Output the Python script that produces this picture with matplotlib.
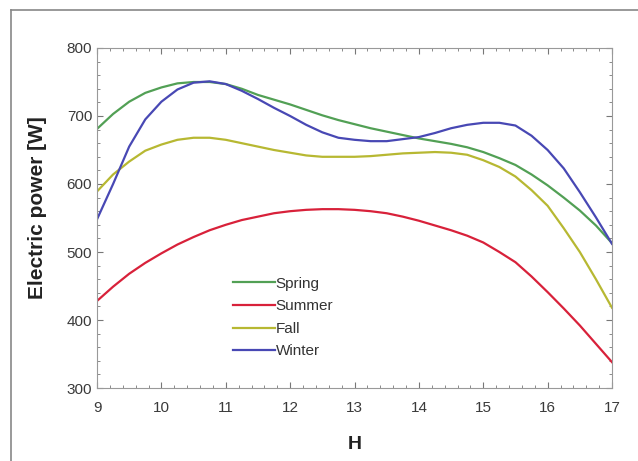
import numpy as np
import matplotlib
matplotlib.use("Agg")
from matplotlib import pyplot as plt
from matplotlib.ticker import MultipleLocator
from matplotlib.lines import Line2D

# hours of the day
hours = [9, 9.25, 9.5, 9.75, 10, 10.25, 10.5, 10.75, 11, 11.25, 11.5, 11.75,
         12, 12.25, 12.5, 12.75, 13, 13.25, 13.5, 13.75, 14, 14.25, 14.5, 14.75,
         15, 15.25, 15.5, 15.75, 16, 16.25, 16.5, 16.75, 17]

spring = [681, 703, 721, 734, 742, 748, 750, 750, 747, 740, 731, 724,
          717, 709, 701, 694, 688, 682, 677, 672, 667, 663, 659, 654,
          647, 638, 628, 614, 598, 580, 561, 539, 513]
summer = [428, 449, 468, 484, 498, 511, 522, 532, 540, 547, 552, 557,
          560, 562, 563, 563, 562, 560, 557, 552, 546, 539, 532, 524,
          514, 500, 485, 464, 441, 417, 392, 365, 338]
fall = [589, 614, 633, 649, 658, 665, 668, 668, 665, 660, 655, 650,
        646, 642, 640, 640, 640, 641, 643, 645, 646, 647, 646, 643,
        635, 625, 611, 591, 568, 535, 500, 460, 418]
winter = [548, 600, 655, 695, 721, 739, 749, 751, 747, 737, 725, 712,
          700, 687, 676, 668, 665, 663, 663, 666, 669, 675, 682, 687,
          690, 690, 686, 671, 650, 623, 588, 551, 512]

series = [("Spring", spring, "#52a055"),
          ("Summer", summer, "#d8213a"),
          ("Fall", fall, "#b7b832"),
          ("Winter", winter, "#4848b4")]

plt.rcParams['font.family'] = ['Liberation Sans', 'DejaVu Sans']

fig = plt.figure(figsize=(6.38, 4.61), dpi=100)
ax = fig.add_axes([97/638, 73/461, 515/638, 340/461])

for name, vals, col in series:
    ax.plot(hours, vals, color=col, linewidth=1.6, label=name)

ax.set_xlim(9, 17)
ax.set_ylim(300, 800)
ax.xaxis.set_major_locator(MultipleLocator(1))
ax.xaxis.set_minor_locator(MultipleLocator(0.2))
ax.yaxis.set_major_locator(MultipleLocator(100))
ax.yaxis.set_minor_locator(MultipleLocator(20))
ax.tick_params(which='both', direction='in', top=True, right=True,
               color='#777777', labelsize=11, labelcolor='#3a3a3a')
ax.tick_params(which='major', length=4)
ax.tick_params(which='minor', length=2)
ax.tick_params(axis='x', which='major', pad=9)
for sp in ax.spines.values():
    sp.set_color('#999999')

ax.set_xlabel("H", fontsize=14, fontweight='bold', color='#222222')
ax.xaxis.set_label_coords(0.5, -0.14)
ax.set_ylabel("Electric power [W]", fontsize=15, fontweight='bold', color='#222222')
ax.yaxis.set_label_coords(-0.098, 0.53)

ax.legend(loc='center left', bbox_to_anchor=(0.264, 0.207), frameon=False,
          borderaxespad=0, borderpad=0,
          fontsize=11, handlelength=2.75, handletextpad=0.05, labelspacing=0.56,
          labelcolor='#333333')

# outer frame of the original figure
fig.add_artist(Line2D([11/638, 1], [1 - 10/461, 1 - 10/461], color='#888888', linewidth=1.2))
fig.add_artist(Line2D([11/638, 11/638], [0, 1 - 10/461], color='#888888', linewidth=1.2))

plt.savefig("out.png", dpi=100)
plt.close()
